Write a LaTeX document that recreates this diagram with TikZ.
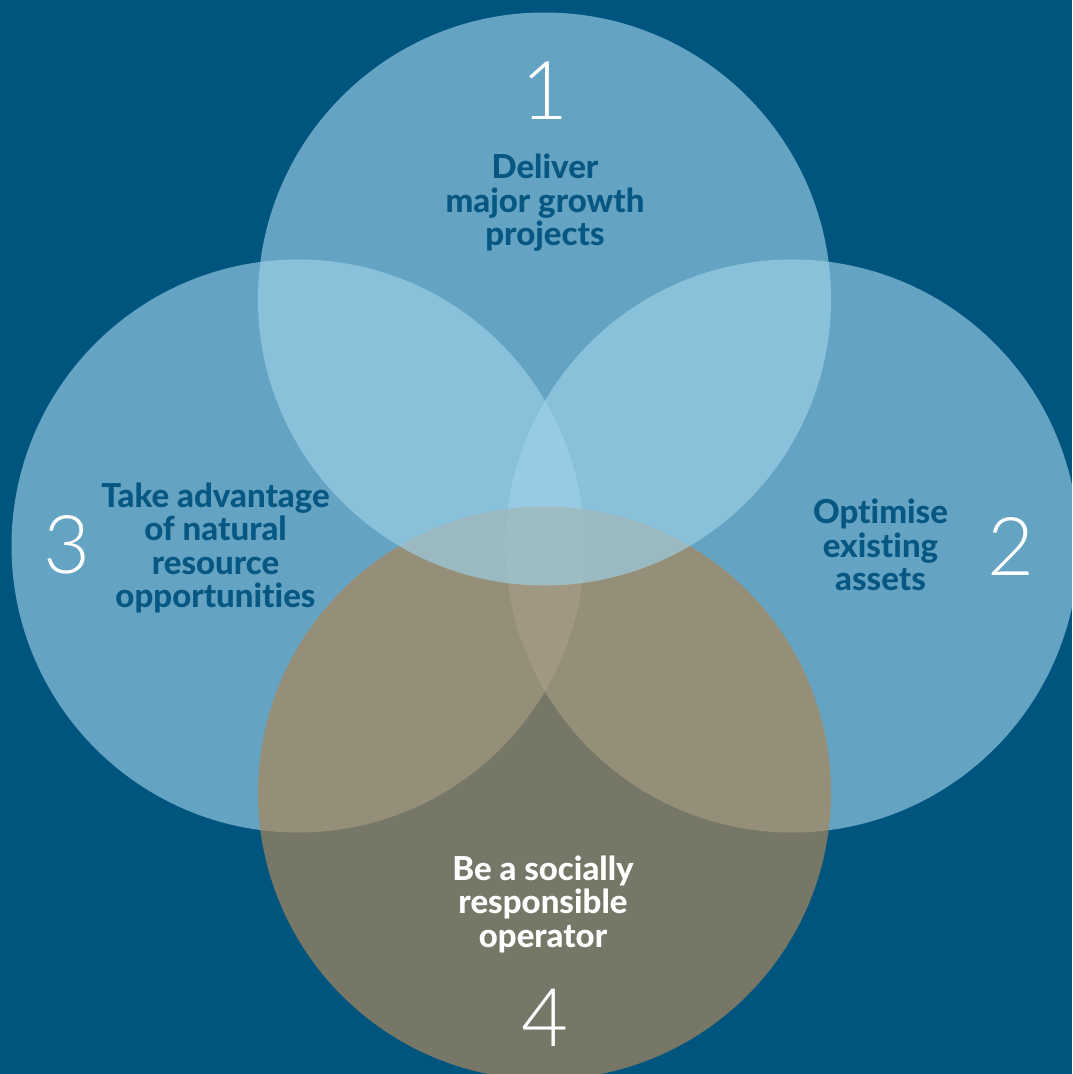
\documentclass[tikz,border=0pt]{standalone}
\usepackage{fontspec}
\setmainfont{Lato}[BoldFont={Lato Heavy}, Ligatures=NoCommon]
\newfontfamily\numfont{Lato Light}
\definecolor{deepblue}{RGB}{0,85,127}
\definecolor{paleblue}{RGB}{158,210,233}
\definecolor{sandtan}{RGB}{171,135,91}
\definecolor{labelblue}{RGB}{6,88,130}

\begin{document}
\begin{tikzpicture}[x=1pt,y=-1pt,
    goal/.style={font=\fontsize{33}{33.5}\selectfont\bfseries, align=center, inner sep=0pt, text=labelblue},
    numeral/.style={font=\fontsize{81}{81}\numfont, text=white, inner sep=0pt},
    ring/.style={fill=paleblue, fill opacity=0.64}]
    \def\circrad{286.5pt}

    \useasboundingbox (0,0) rectangle (1072,1074);
    \clip (0,0) rectangle (1072,1074);
    \fill[deepblue] (0,0) rectangle (1072,1074);

    \coordinate (cTop) at (544.5,299);
    \coordinate (cRight) at (792,546);
    \coordinate (cLeft) at (298,546);
    \coordinate (cBottom) at (544.5,793);

    \fill[ring] (cRight) circle (\circrad);
    \fill[ring] (cLeft) circle (\circrad);
    \fill[sandtan, fill opacity=0.69] (cBottom) circle (\circrad);
    \fill[ring] (cTop) circle (\circrad);

    \node[goal] (growth) at (545,203) {Deliver\\major growth\\projects};
    \node[goal] (assets) at (880.5,545) {Optimise\\existing\\assets};
    \node[goal] (resource) at (215.5,548) {Take advantage\\of natural\\resource\\opportunities};
    \node[goal, text=white] (operator) at (543,904) {Be a socially\\responsible\\operator};

    \node[numeral] (one) at (544.5,90.5) {1};
    \node[numeral] (two) at (1011,546.5) {2};
    \node[numeral] (three) at (67,545) {3};
    \node[numeral] (four) at (545,1017.5) {4};
\end{tikzpicture}
\end{document}
